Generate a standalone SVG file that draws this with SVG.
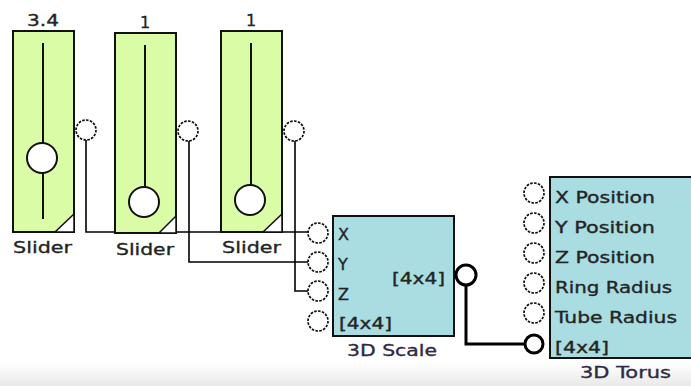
<svg xmlns="http://www.w3.org/2000/svg" width="691" height="386" viewBox="0 0 691 386">
<defs>
<linearGradient id="floor" x1="0" y1="0" x2="0" y2="1">
<stop offset="0" stop-color="#ffffff"/>
<stop offset="1" stop-color="#e9e9e9"/>
</linearGradient>
</defs>
<style>
.t{font-family:"DejaVu Sans","Liberation Sans",sans-serif;font-size:16px;fill:#242424;stroke:#242424;stroke-width:0.35}
.lbl{fill:#2e2a45;stroke:#2e2a45}
.sl{fill:#dafca6;stroke:#111;stroke-width:2}
.blk{fill:#a9dde1;stroke:#111;stroke-width:2}
.trk{stroke:#111;stroke-width:2;fill:none}
.knob{fill:#fff;stroke:#111;stroke-width:2}
.tri{fill:#fff;stroke:#111;stroke-width:1.5}
.port{fill:#fff;stroke:#111;stroke-width:1.7;stroke-dasharray:2.6 1.3}
.portc{fill:#fff;stroke:#000;stroke-width:3}
.w{fill:none;stroke:#000;stroke-width:1.6}
.wb{fill:none;stroke:#000;stroke-width:3}
</style>
<rect x="0" y="0" width="691" height="386" fill="#fff"/>
<rect x="0" y="362" width="691" height="24" fill="url(#floor)"/>

<g id="connectors">
<polyline class="w" points="86,130 86,232 318,232"/>
<polyline class="w" points="189,131 189,262 318,262"/>
<polyline class="w" points="295,131 295,291 318,291"/>
<polyline class="wb" points="466,276 466,344 534,344"/>
</g>

<g id="slider1">
<text class="t" x="43" y="26" text-anchor="middle" textLength="32" lengthAdjust="spacingAndGlyphs">3.4</text>
<rect class="sl" x="13" y="31" width="61" height="201"/>
<line class="trk" x1="43" y1="43" x2="43" y2="219"/>
<circle class="knob" cx="42" cy="158" r="15"/>
<polygon class="tri" points="55,232 74,232 74,214"/>
<circle class="port" cx="86" cy="130" r="10"/>
<text class="t" x="13" y="253" textLength="59" lengthAdjust="spacingAndGlyphs">Slider</text>
</g>

<g id="slider2">
<text class="t" x="145" y="28" text-anchor="middle">1</text>
<rect class="sl" x="115" y="33" width="61" height="200"/>
<line class="trk" x1="145" y1="45" x2="145" y2="188"/>
<circle class="knob" cx="144" cy="202" r="15"/>
<polygon class="tri" points="159,233 176,233 176,216"/>
<circle class="port" cx="188" cy="131" r="10"/>
<text class="t" x="116" y="255" textLength="58" lengthAdjust="spacingAndGlyphs">Slider</text>
</g>

<g id="slider3">
<text class="t" x="251" y="26" text-anchor="middle">1</text>
<rect class="sl" x="221" y="31" width="61" height="201"/>
<line class="trk" x1="251" y1="43" x2="251" y2="186"/>
<circle class="knob" cx="250" cy="200" r="15"/>
<polygon class="tri" points="263,232 282,232 282,214"/>
<circle class="port" cx="294" cy="131" r="10"/>
<text class="t" x="222" y="253" textLength="59" lengthAdjust="spacingAndGlyphs">Slider</text>
</g>

<g id="scale3d">
<rect class="blk" x="333" y="216" width="121" height="120"/>
<circle class="port" cx="318" cy="233" r="10"/>
<circle class="port" cx="318" cy="262" r="10"/>
<circle class="port" cx="318" cy="291" r="10"/>
<circle class="port" cx="318" cy="321" r="10"/>
<circle class="portc" cx="466" cy="275" r="10"/>
<text class="t" x="338" y="240">X</text>
<text class="t" x="338" y="270">Y</text>
<text class="t" x="338" y="300">Z</text>
<text class="t" x="339" y="329" textLength="53" lengthAdjust="spacingAndGlyphs">[4x4]</text>
<text class="t" x="392" y="284" textLength="53" lengthAdjust="spacingAndGlyphs">[4x4]</text>
<text class="t lbl" x="347" y="356" textLength="90" lengthAdjust="spacingAndGlyphs">3D Scale</text>
</g>

<g id="torus3d">
<rect class="blk" x="550" y="177" width="145" height="181"/>
<circle class="port" cx="534" cy="193" r="10"/>
<circle class="port" cx="534" cy="223" r="10"/>
<circle class="port" cx="534" cy="253" r="10"/>
<circle class="port" cx="534" cy="283" r="10"/>
<circle class="port" cx="534" cy="313" r="10"/>
<circle class="portc" cx="534" cy="344" r="9"/>
<text class="t" x="555" y="203" textLength="100" lengthAdjust="spacingAndGlyphs">X Position</text>
<text class="t" x="555" y="233" textLength="100" lengthAdjust="spacingAndGlyphs">Y Position</text>
<text class="t" x="555" y="263" textLength="100" lengthAdjust="spacingAndGlyphs">Z Position</text>
<text class="t" x="555" y="293" textLength="117" lengthAdjust="spacingAndGlyphs">Ring Radius</text>
<text class="t" x="555" y="323" textLength="122" lengthAdjust="spacingAndGlyphs">Tube Radius</text>
<text class="t" x="555" y="353" textLength="54" lengthAdjust="spacingAndGlyphs">[4x4]</text>
<text class="t lbl" x="580" y="378" textLength="91" lengthAdjust="spacingAndGlyphs">3D Torus</text>
</g>
</svg>
